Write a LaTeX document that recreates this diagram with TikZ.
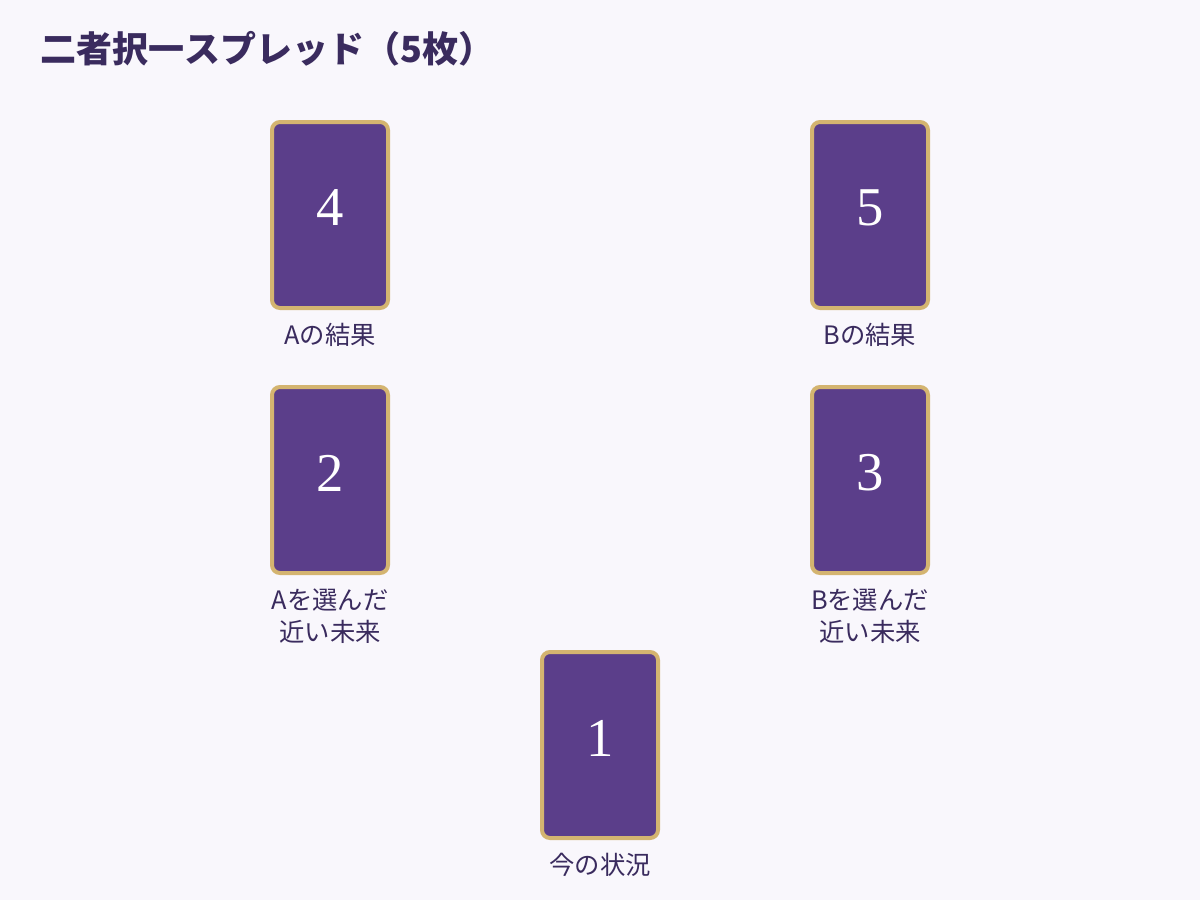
\documentclass[tikz,border=0pt]{standalone}
\usepackage{fontspec}
\setmainfont{Liberation Serif}
\newfontfamily\cjk{Noto Sans CJK JP}
\definecolor{bgc}{HTML}{F9F7FC}
\definecolor{cardfill}{HTML}{5B3E8A}
\definecolor{cardedge}{HTML}{D4B470}
\definecolor{textc}{HTML}{3A2B5E}
\begin{document}
\begin{tikzpicture}[x=0.75pt,y=-0.75pt,
  card/.style={draw=cardedge,fill=cardfill,line width=3pt,rounded corners=6pt,
    minimum width=116*0.75pt,minimum height=186*0.75pt,inner sep=0pt},
  num/.style={text=white,font=\fontsize{41}{41}\selectfont,inner sep=0pt},
  lbl/.style={text=textc,font=\cjk\fontsize{19}{24}\selectfont,align=center,inner sep=0pt}]
\fill[bgc] (0,0) rectangle (1200,900);
\useasboundingbox (0,0) rectangle (1200,900);
\node[anchor=base west,text=textc,font=\cjk\bfseries\fontsize{27}{30}\selectfont,inner sep=0pt] (title) at (40,62) {二者択一スプレッド（5枚）};
\node[card] (c4) at (330,215) {};
\node[card] (c5) at (870,215) {};
\node[card] (c2) at (330,480) {};
\node[card] (c3) at (870,480) {};
\node[card] (c1) at (600,745) {};
\node[num] (n4) at ([yshift=7*0.75pt]c4.center) {4};
\node[num] (n5) at ([yshift=7*0.75pt]c5.center) {5};
\node[num] (n2) at ([yshift=7*0.75pt]c2.center) {2};
\node[num] (n3) at ([yshift=7*0.75pt]c3.center) {3};
\node[num] (n1) at ([yshift=7*0.75pt]c1.center) {1};
\node[lbl] (l4) at (330,335) {Aの結果};
\node[lbl] (l5) at (870,335) {Bの結果};
\node[lbl] (l2) at (330,616) {Aを選んだ\\近い未来};
\node[lbl] (l3) at (870,616) {Bを選んだ\\近い未来};
\node[lbl] (l1) at (600,865) {今の状況};
\end{tikzpicture}
\end{document}
